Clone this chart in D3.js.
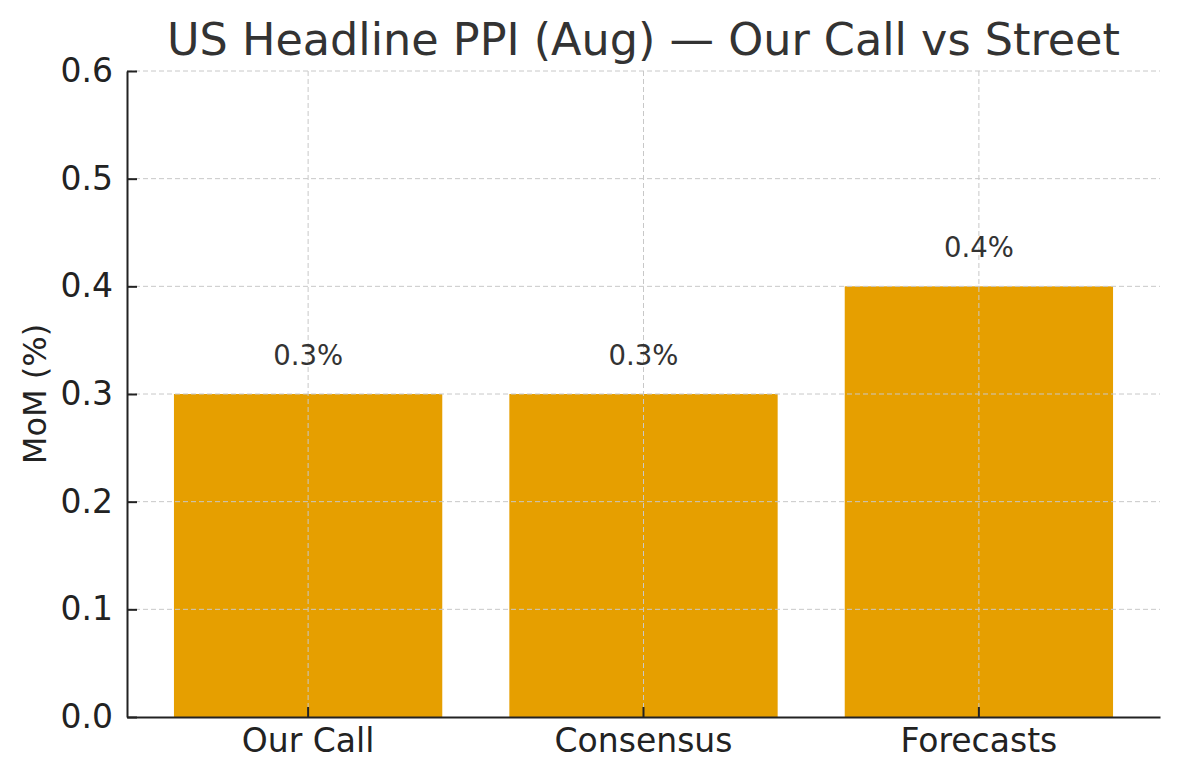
<!DOCTYPE html>
<html>
<head>
<meta charset="utf-8">
<script src="https://cdn.jsdelivr.net/npm/d3@7"></script>
<style>
  body { margin: 0; background: #fff; }
  text { font-family: "DejaVu Sans", sans-serif; }
</style>
</head>
<body>
<svg id="chart" width="1180" height="780"></svg>
<script>
  // data
  const categories = ["Our Call", "Consensus", "Forecasts"];
  const values = [0.3, 0.3, 0.4];
  const barLabels = ["0.3%", "0.3%", "0.4%"];
  const yTicks = [0.0, 0.1, 0.2, 0.3, 0.4, 0.5, 0.6];

  const width = 1180, height = 780;
  const margin = { top: 71, right: 20, bottom: 63, left: 127 };
  const innerW = width - margin.left - margin.right;
  const innerH = height - margin.top - margin.bottom;

  const svg = d3.select("#chart");
  const g = svg.append("g").attr("transform", `translate(${margin.left},${margin.top})`);

  const x = d3.scaleBand().domain(categories).range([0, innerW])
    .paddingInner(0.2).paddingOuter(0.14);
  const y = d3.scaleLinear().domain([0, 0.6]).range([innerH, 0]);

  // bars
  g.selectAll("rect.bar")
    .data(values)
    .join("rect")
    .attr("class", "bar")
    .attr("x", (d, i) => x(categories[i]))
    .attr("y", d => y(d))
    .attr("width", x.bandwidth())
    .attr("height", d => innerH - y(d))
    .attr("fill", "#E69F00");

  // grid sits on top of the bars like in the original
  const grid = g.append("g").attr("stroke", "#c8c8c8").attr("stroke-width", 1)
    .attr("stroke-dasharray", "5,3");
  grid.selectAll("line.h")
    .data(yTicks.slice(1))
    .join("line")
    .attr("x1", 0).attr("x2", innerW)
    .attr("y1", d => y(d)).attr("y2", d => y(d));
  grid.selectAll("line.v")
    .data(categories)
    .join("line")
    .attr("x1", d => x(d) + x.bandwidth() / 2)
    .attr("x2", d => x(d) + x.bandwidth() / 2)
    .attr("y1", 0).attr("y2", innerH);

  // value labels
  g.selectAll("text.val")
    .data(values)
    .join("text")
    .attr("class", "val")
    .attr("x", (d, i) => x(categories[i]) + x.bandwidth() / 2)
    .attr("y", d => y(d) - 29)
    .attr("text-anchor", "middle")
    .attr("font-size", 27.5)
    .attr("fill", "#333")
    .text((d, i) => barLabels[i]);

  // axes
  const yAxis = g.append("g")
    .call(d3.axisLeft(y).tickValues(yTicks).tickFormat(d3.format(".1f"))
      .tickSizeInner(-10).tickSizeOuter(0).tickPadding(14));
  const xAxis = g.append("g")
    .attr("transform", `translate(0,${innerH})`)
    .call(d3.axisBottom(x).tickSizeInner(-10).tickSizeOuter(0));

  [yAxis, xAxis].forEach(a => {
    a.select(".domain").attr("stroke", "#222").attr("stroke-width", 2);
    a.selectAll(".tick line").attr("stroke", "#222").attr("stroke-width", 2);
    a.selectAll(".tick text").attr("font-size", 33).attr("fill", "#222")
      .attr("font-family", "DejaVu Sans");
  });
  xAxis.selectAll(".tick text").attr("y", 35).attr("dy", 0);

  // title and axis label
  svg.append("text")
    .attr("x", margin.left + innerW / 2)
    .attr("y", 55)
    .attr("text-anchor", "middle")
    .attr("font-size", 44.5)
    .attr("fill", "#333")
    .text("US Headline PPI (Aug) — Our Call vs Street");

  svg.append("text")
    .attr("transform", `translate(46,${margin.top + innerH / 2}) rotate(-90)`)
    .attr("text-anchor", "middle")
    .attr("font-size", 32)
    .attr("fill", "#222")
    .text("MoM (%)");
</script>
</body>
</html>
